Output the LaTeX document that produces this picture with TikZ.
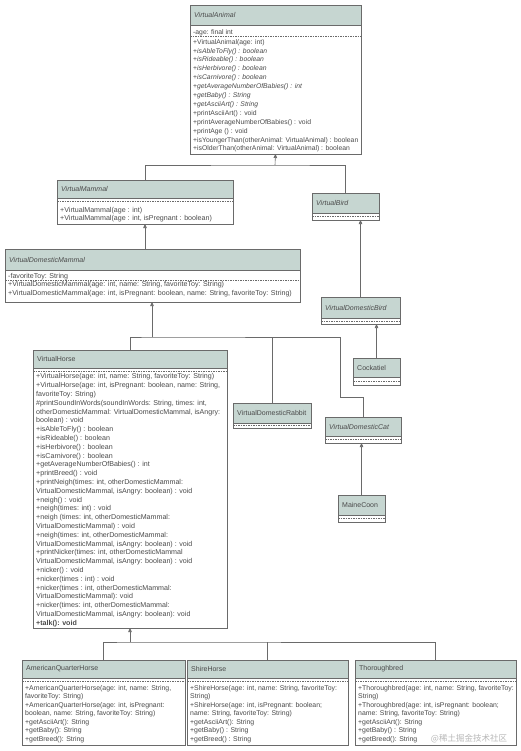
\documentclass[tikz,border=0pt]{standalone}
\usepackage{fontspec}
\setmainfont{Liberation Sans}
\newfontfamily\cjk{Noto Sans CJK SC}
\usetikzlibrary{arrows.meta,fit}
\definecolor{hdr}{HTML}{C6D6D1}
\definecolor{bord}{HTML}{6A6A6A}
\definecolor{txt}{HTML}{4A4A4A}
\tikzset{
 box/.style={draw=bord, line width=0.6pt, inner sep=0pt, outer sep=0pt},
 hd/.style={fill=hdr},
 ttl/.style={font=\fontsize{7}{8}\selectfont, text=txt, inner sep=0pt, anchor=west},
 mem/.style={font=\fontsize{7.1}{#1}\selectfont, text=txt, inner sep=0pt, anchor=north west, align=left},
 mem/.default=8.8,
 memva/.style={font=\fontsize{6.8}{8.9}\selectfont, text=txt, inner sep=0pt, anchor=north west, align=left},
 membot/.style={font=\fontsize{6.9}{8.5}\selectfont, text=txt, inner sep=0pt, anchor=north west, align=left},
 sepline/.style={draw=bord, line width=0.5pt, dash pattern=on 1.5pt off 1pt},
 conn/.style={draw=bord, line width=0.6pt},
 inh/.style={conn, -{Triangle[length=4pt,width=3.5pt]}},
}
% #1 name, #2 x1, #3 y1, #4 x2, #5 y2, #6 header bottom, #7 dashed y, #8 title
\newcommand{\umlclass}[8]{%
 \fill[hd] (#2,#3) rectangle (#4,#6);
 \draw[box] (#2,#6) -- (#4,#6);
 \draw[sepline] (#2,#7) -- (#4,#7);
 \node[box, fit={(#2,#3) (#4,#5)}] (#1) {};
 \node[ttl] (#1-t) at ({#2+4},{(#3+#6)/2}) {#8};
}
\begin{document}
\begin{tikzpicture}[x=1pt,y=-1pt]
\useasboundingbox (0,0) rectangle (521,751);
\fill[white] (0,0) rectangle (521,751);

% ---------- classes ----------
\umlclass{VA}{190}{5}{361}{154}{25}{36}{\textit{VirtualAnimal}}
\node[memva] (VA-a) at (193,29.5) {-age: final int};
\node[memva] (VA-m) at (193,39) {%
+VirtualAnimal(age: int)\\
+\textit{isAbleToFly() : boolean}\\
+\textit{isRideable() : boolean}\\
+\textit{isHerbivore() : boolean}\\
+\textit{isCarnivore() : boolean}\\
+\textit{getAverageNumberOfBabies() : int}\\
+\textit{getBaby() : String}\\
+\textit{getAsciiArt() : String}\\
+printAsciiArt() : void\\
+printAverageNumberOfBabies() : void\\
+printAge () : void\\
+isYoungerThan(otherAnimal: VirtualAnimal) : boolean\\
+isOlderThan(otherAnimal: VirtualAnimal) : boolean};

\umlclass{VM}{57}{180}{233}{224}{198}{201.5}{\textit{VirtualMammal}}
\node[mem=8.5] (VM-m) at (60,207) {%
+VirtualMammal(age : int)\\
+VirtualMammal(age : int, isPregnant : boolean)};

\umlclass{VDM}{5}{249}{300}{302}{270}{280}{\textit{VirtualDomesticMammal}}
\node[mem] (VDM-a) at (8,273) {-favoriteToy: String};
\node[mem=9] (VDM-m) at (8,281.5) {%
+VirtualDomesticMammal(age: int, name: String, favoriteToy: String)\\
+VirtualDomesticMammal(age: int, isPregnant: boolean, name: String, favoriteToy: String)};

\umlclass{VH}{33}{350}{227}{628}{368}{371}{VirtualHorse}
\node[mem=8.8] (VH-m) at (36,373.5) {%
+VirtualHorse(age: int, name: String, favoriteToy: String)\\
+VirtualHorse(age: int, isPregnant: boolean, name: String,\\
favoriteToy: String)\\
\#printSoundInWords(soundInWords: String, times: int,\\
otherDomesticMammal: VirtualDomesticMammal, isAngry:\\
boolean) : void\\
+isAbleToFly() : boolean\\
+isRideable() : boolean\\
+isHerbivore() : boolean\\
+isCarnivore() : boolean\\
+getAverageNumberOfBabies() : int\\
+printBreed() : void\\
+printNeigh(times: int, otherDomesticMammal:\\
VirtualDomesticMammal, isAngry: boolean) : void\\
+neigh() : void\\
+neigh(times: int) : void\\
+neigh (times: int, otherDomesticMammal:\\
VirtualDomesticMammal) : void\\
+neigh(times: int, otherDomesticMammal:\\
VirtualDomesticMammal, isAngry: boolean) : void\\
+printNicker(times: int, otherDomesticMammal\\
VirtualDomesticMammal, isAngry: boolean) : void\\
+nicker() : void\\
+nicker(times : int) : void\\
+nicker(times : int, otherDomesticMammal:\\
VirtualDomesticMammal): void\\
+nicker(times: int, otherDomesticMammal:\\
VirtualDomesticMammal, isAngry: boolean): void\\
\textbf{+talk(): void}};

\umlclass{VB}{312}{193}{379}{220}{213}{216.5}{\textit{VirtualBird}}
\umlclass{VDB}{321}{297}{400}{324}{318}{321}{\textit{VirtualDomesticBird}}
\umlclass{CK}{353}{358}{400}{385}{377}{381}{Cockatiel}
\umlclass{VDC}{325}{417}{401}{443}{436}{439.5}{\textit{VirtualDomesticCat}}
\umlclass{VDR}{233}{403}{311}{428}{423}{425.5}{VirtualDomesticRabbit}
\umlclass{MC}{338}{495}{385}{522}{515}{518.5}{MaineCoon}

\umlclass{AQH}{22}{660}{185}{745}{678}{681}{AmericanQuarterHorse}
\node[membot] (AQH-m) at (25,685) {%
+AmericanQuarterHorse(age: int, name: String,\\
favoriteToy: String)\\
+AmericanQuarterHorse(age: int, isPregnant:\\
boolean, name: String, favoriteToy: String)\\
+getAsciiArt(): String\\
+getBaby(): String\\
+getBreed(): String};

\umlclass{SH}{187}{660}{348}{745}{678}{681}{ShireHorse}
\node[membot] (SH-m) at (190,685) {%
+ShireHorse(age: int, name: String, favoriteToy:\\
String)\\
+ShireHorse(age: int, isPregnant: boolean;\\
name: String, favoriteToy: String)\\
+getAsciiArt(): String\\
+getBaby() : String\\
+getBreed() : String};

\umlclass{TB}{355}{660}{516}{745}{678}{681}{Thoroughbred}
\node[membot] (TB-m) at (358,685) {%
+Thoroughbred(age: int, name: String, favoriteToy:\\
String)\\
+Thoroughbred(age: int, isPregnant: boolean;\\
name: String, favoriteToy: String)\\
+getAsciiArt(): String\\
+getBaby() : String\\
+getBreed(): String};

% ---------- connectors ----------
\coordinate (bus1) at (275,165);
\draw[inh] (bus1) -- (VA.south);
\draw[conn] (VM.north) |- (bus1) -| (VB.north);
\draw[inh] (VM.south |- VDM.north) -- (VM.south);

\coordinate (bus2) at (152,337);
\coordinate (c1) at (340,337);
\coordinate (c2) at (340,397);
\draw[inh] (bus2) -- (bus2 |- VDM.south);
\draw[conn] (VH.north) |- (bus2) -- (c1) -- (c2) -| (VDC.north);
\draw[conn] (VDR.north) -- (VDR.north |- bus2);

\draw[inh] (VDB.north) -- (VDB.north |- VB.south);
\draw[inh] (CK.north) -- (CK.north |- VDB.south);
\draw[inh] (MC.north) -- (MC.north |- VDC.south);

\coordinate (bus3) at (130,642);
\draw[inh] (bus3) -- (VH.south);
\draw[conn] (AQH.north) |- (bus3) -| (TB.north);
\draw[conn] (SH.north) -- (SH.north |- bus3);

% watermark
\node[font=\cjk\fontsize{8.5}{10}\selectfont, text=black!28, inner sep=0pt] (wm) at (469,739) {@稀土掘金技术社区};
\end{tikzpicture}
\end{document}
